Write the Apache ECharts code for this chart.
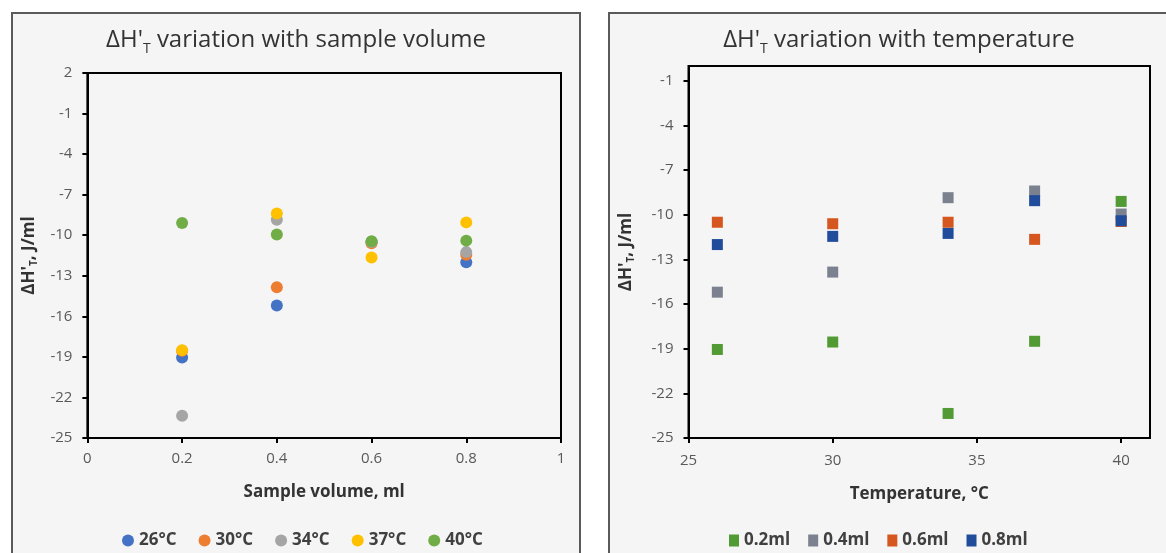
<!DOCTYPE html>
<html>
<head>
<meta charset="utf-8">
<script src="https://cdn.jsdelivr.net/npm/echarts@6/dist/echarts.min.js"></script>
<style>
  body { margin: 0; background: #fff; width: 1166px; height: 553px; overflow: hidden; position: relative; }
  .panel { position: absolute; background: #f5f5f5; border: 2px solid #5a5a5a; box-sizing: border-box; }
  #left { left: 11px; top: 12px; width: 570px; height: 560px; }
  #right { left: 608px; top: 12px; width: 580px; height: 560px; }
</style>
</head>
<body>
<div id="left" class="panel"></div>
<div id="right" class="panel"></div>
<script>
// temperatures (deg C) and sample volumes (ml)
var temps = [26, 30, 34, 37, 40];
var volumes = [0.2, 0.4, 0.6, 0.8];
// dH'T (J/ml) for each volume, one value per temperature
var vol02 = [-19.05, -18.55, -23.35, -18.5, -9.1];
var vol04 = [-15.2, -13.85, -8.85, -8.4, -9.95];
var vol06 = [-10.5, -10.6, -10.5, -11.65, -10.45];
var vol08 = [-12.0, -11.45, -11.25, -9.05, -10.4];
var byVolume = [vol02, vol04, vol06, vol08];

var leftYTicks = [-25, -22, -19, -16, -13, -10, -7, -4, -1, 2];
var rightYTicks = [-25, -22, -19, -16, -13, -10, -7, -4, -1];
var rightXTicks = [25, 30, 35, 40];

var tempColors = ["#4472c4", "#ed7d31", "#a5a5a5", "#ffc000", "#70ad47"];
var volColors = ["#519a34", "#7b818f", "#d5561e", "#204c9b"];

var font = "'Open Sans', Lato, sans-serif";
var labelColor = "#595959";

function titleRich(rest) {
  return {
    text: "{a|ΔH'}{s|T}{a| " + rest + "}",
    left: "center",
    top: 5,
    textStyle: {
      fontWeight: "normal",
      rich: {
        a: { fontFamily: font, fontSize: 24, fontWeight: "normal", color: "#333", lineHeight: 32 },
        s: { fontFamily: font, fontSize: 14, fontWeight: "normal", color: "#333", lineHeight: 16, verticalAlign: "bottom" }
      }
    }
  };
}

var yName = "{a|ΔH'}{s|T}{a|, J/ml}";
var yNameStyle = {
  rich: {
    a: { fontFamily: font, fontSize: 17, fontWeight: "bold", color: "#333", lineHeight: 20 },
    s: { fontFamily: font, fontSize: 10, fontWeight: "bold", color: "#333", lineHeight: 10, verticalAlign: "bottom" }
  }
};

function axisCommon() {
  return {
    axisLine: { onZero: false, lineStyle: { color: "#000", width: 2 } },
    axisTick: { show: true, length: 5, lineStyle: { color: "#000", width: 2 } },
    splitLine: { show: false },
    axisLabel: { color: labelColor, fontFamily: font, fontSize: 15 }
  };
}

// ---------- left chart: vs sample volume ----------
var leftChart = echarts.init(document.getElementById("left"));
var leftSeries = temps.map(function (t, i) {
  return {
    name: t + "°C",
    type: "scatter",
    symbol: "circle",
    symbolSize: 12,
    itemStyle: { color: tempColors[i], opacity: 1 },
    data: volumes.map(function (v, j) { return [v, byVolume[j][i]]; })
  };
});
var lx = axisCommon();
var ly = axisCommon();
leftChart.setOption({
  animation: false,
  title: titleRich("variation with sample volume"),
  grid: { left: 73, top: 59, width: 475, height: 365, show: true, borderColor: "#000", borderWidth: 2, backgroundColor: "transparent" },
  xAxis: Object.assign(lx, {
    type: "value", min: 0, max: 1, interval: 0.2,
    name: "Sample volume, ml", nameLocation: "middle", nameGap: 46,
    nameTextStyle: { fontFamily: font, fontSize: 17, fontWeight: "bold", color: "#333" },
    axisLabel: Object.assign(lx.axisLabel, { margin: 13 })
  }),
  yAxis: Object.assign(ly, {
    type: "value", min: -25, max: 2,
    name: yName, nameLocation: "middle", nameGap: 38, nameTextStyle: yNameStyle,
    axisTick: Object.assign(ly.axisTick, { customValues: leftYTicks }),
    axisLabel: Object.assign(ly.axisLabel, { margin: 15, customValues: leftYTicks })
  }),
  legend: {
    top: 513, left: 104,
    icon: "circle", itemWidth: 12, itemHeight: 12, itemGap: 22,
    textStyle: { fontFamily: font, fontSize: 17, fontWeight: "bold", color: "#404040" },
    data: temps.map(function (t) { return t + "°C"; })
  },
  series: leftSeries
});

// ---------- right chart: vs temperature ----------
var rightChart = echarts.init(document.getElementById("right"));
var volNames = volumes.map(function (v) { return v + "ml"; });
var rightSeries = volumes.map(function (v, j) {
  return {
    name: volNames[j],
    type: "scatter",
    symbol: "rect",
    symbolSize: 11,
    itemStyle: { color: volColors[j], opacity: 1 },
    data: temps.map(function (t, i) { return [t, byVolume[j][i]]; })
  };
});
var rx = axisCommon();
var ry = axisCommon();
rightChart.setOption({
  animation: false,
  title: Object.assign(titleRich("variation with temperature"), { left: 284, textAlign: "center" }),
  grid: { left: 73, top: 52, width: 467, height: 372, show: true, borderColor: "#000", borderWidth: 2, backgroundColor: "transparent" },
  xAxis: Object.assign(rx, {
    type: "value", min: 25, max: 41,
    name: "Temperature, °C", nameLocation: "middle", nameGap: 48,
    nameTextStyle: { fontFamily: font, fontSize: 17, fontWeight: "bold", color: "#333" },
    axisTick: Object.assign(rx.axisTick, { customValues: rightXTicks }),
    axisLabel: Object.assign(rx.axisLabel, { margin: 15, customValues: rightXTicks })
  }),
  yAxis: Object.assign(ry, {
    type: "value", min: -25, max: 0,
    name: yName, nameLocation: "middle", nameGap: 52, nameTextStyle: yNameStyle,
    axisTick: Object.assign(ry.axisTick, { customValues: rightYTicks }),
    axisLabel: Object.assign(ry.axisLabel, { margin: 15, customValues: rightYTicks })
  }),
  legend: {
    top: 513, left: 114,
    icon: "rect", itemWidth: 10, itemHeight: 12, itemGap: 18,
    textStyle: { fontFamily: font, fontSize: 17, fontWeight: "bold", color: "#404040" },
    data: volNames
  },
  series: rightSeries
});
</script>
</body>
</html>
